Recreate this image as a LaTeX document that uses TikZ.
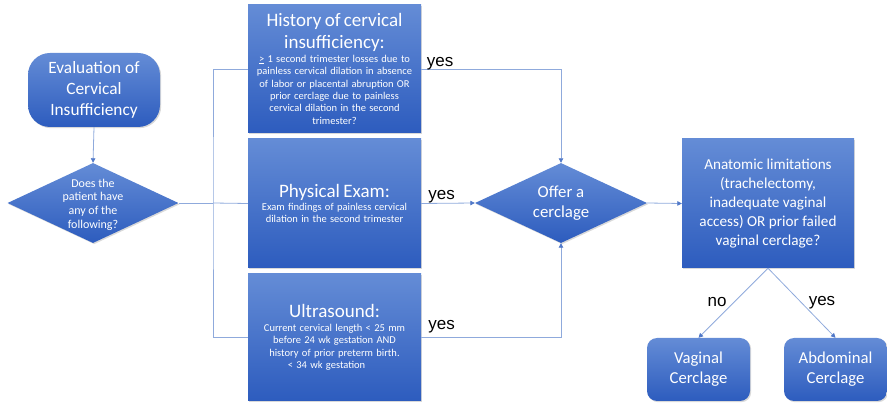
\documentclass[tikz,border=0pt]{standalone}
\usepackage{fontspec}
\setmainfont{Carlito}
\newfontfamily\arialf{Liberation Sans}
\usetikzlibrary{shapes.geometric,arrows.meta,shadows}
\definecolor{boxtop}{RGB}{100,140,214}
\definecolor{boxbot}{RGB}{45,92,190}
\definecolor{linec}{RGB}{143,170,220}
\definecolor{tipc}{RGB}{80,120,200}
\begin{document}
\begin{tikzpicture}[x=1pt,y=-1pt,
  box/.style={draw=none, top color=boxtop, bottom color=boxbot, text=white, align=center, inner sep=0pt,
    drop shadow={shadow xshift=1.2pt, shadow yshift=-1.2pt, opacity=0.3}},
  rbox/.style={box, rectangle, rounded corners=#1},
  dia/.style={box, diamond, inner sep=0pt},
  dtext/.style={text=white, align=center, inner sep=0pt},
  conn/.style={draw=linec, line width=0.8pt},
  arr/.style={conn, -{Triangle[length=4.5pt,width=4.5pt,color=tipc]}},
  lab/.style={font=\arialf\fontsize{17}{20}\selectfont, text=black, inner sep=0pt},
]
\useasboundingbox (0,0) rectangle (887,403);

\node[rbox=22pt, minimum width=132pt, minimum height=74pt, font=\fontsize{17.3}{21}\selectfont] (eval) at (94,90) {Evaluation of\\Cervical\\Insufficiency};

\node[dia, minimum width=171pt, minimum height=80pt,
  label={[dtext, font=\fontsize{12}{13.7}\selectfont, yshift=-1.5pt]center:{Does the\\patient have\\any of the\\following?}}] (ask) at (93,203) {};

\node[box, minimum width=173pt, minimum height=128pt, text width=170pt] (hist) at (334.5,69)
  {{\fontsize{19}{22}\selectfont History of cervical\\insufficiency:\par}\vspace{1pt}
   \fontsize{10.5}{12.4}\selectfont \underline{>} 1 second trimester losses due to\\painless cervical dilation in absence\\of labor or placental abruption OR\\prior cerclage due to painless\\cervical dilation in the second\\trimester?\par};

\node[box, minimum width=173pt, minimum height=129pt, text width=170pt] (pe) at (334.5,203.5)
  {{\fontsize{19}{22}\selectfont Physical Exam:\par}\vspace{1pt}
   \fontsize{10.5}{12.4}\selectfont Exam findings of painless cervical\\dilation in the second trimester\par};

\node[box, minimum width=173pt, minimum height=127pt, text width=170pt] (us) at (334.5,337.5)
  {{\fontsize{19}{22}\selectfont Ultrasound:\par}\vspace{1pt}
   \fontsize{10.5}{12.4}\selectfont Current cervical length < 25 mm\\before 24 wk gestation AND\hspace*{14pt}\\history of prior preterm birth.\\< 34 wk gestation\hspace*{16pt}\par};

\node[dia, minimum width=172pt, minimum height=80pt,
  label={[dtext, font=\fontsize{16.8}{20}\selectfont]center:{Offer a\\cerclage}}] (offer) at (561,203) {};

\node[box, rectangle, minimum width=172pt, minimum height=129pt, font=\fontsize{15.2}{19}\selectfont] (anat) at (768,203.5)
  {Anatomic limitations\\(trachelectomy,\\inadequate vaginal\\access) OR prior failed\\vaginal cerclage?};

\node[rbox=10pt, minimum width=103pt, minimum height=63pt, font=\fontsize{16.7}{20}\selectfont] (vag) at (698.5,369.5) {Vaginal\\Cerclage};
\node[rbox=10pt, minimum width=103pt, minimum height=63pt, font=\fontsize{16.7}{20}\selectfont] (abd) at (835.5,369.5) {Abdominal\\Cerclage};

% connectors
\draw[arr] (eval.south) -- (ask.north);
\coordinate (j) at (213,203);
\draw[conn] (ask.east) -- (j);
\draw[conn] (hist.west) -| (j) |- (us.west);
\draw[conn] (j) -- (pe.west);
\draw[arr] (hist.east) -| (offer.north);
\draw[arr] (pe.east) -- (offer.west);
\draw[arr] (us.east) -| (offer.south);
\draw[arr] (offer.east) -- (anat.west);
\draw[arr] (anat.south) -- (vag.north);
\draw[arr] (anat.south) -- (abd.north);

% labels
\node[lab, anchor=base west] (y1) at ([xshift=5.5pt,yshift=2pt]hist.east) {yes};
\node[lab, anchor=base west] (y2) at ([xshift=7pt,yshift=4pt]pe.east) {yes};
\node[lab, anchor=base west] (y3) at ([xshift=7pt,yshift=8pt]us.east) {yes};
\node[lab] (no) at (717,302) {no};
\node[lab] (y4) at (822,303) {yes};
\end{tikzpicture}
\end{document}
